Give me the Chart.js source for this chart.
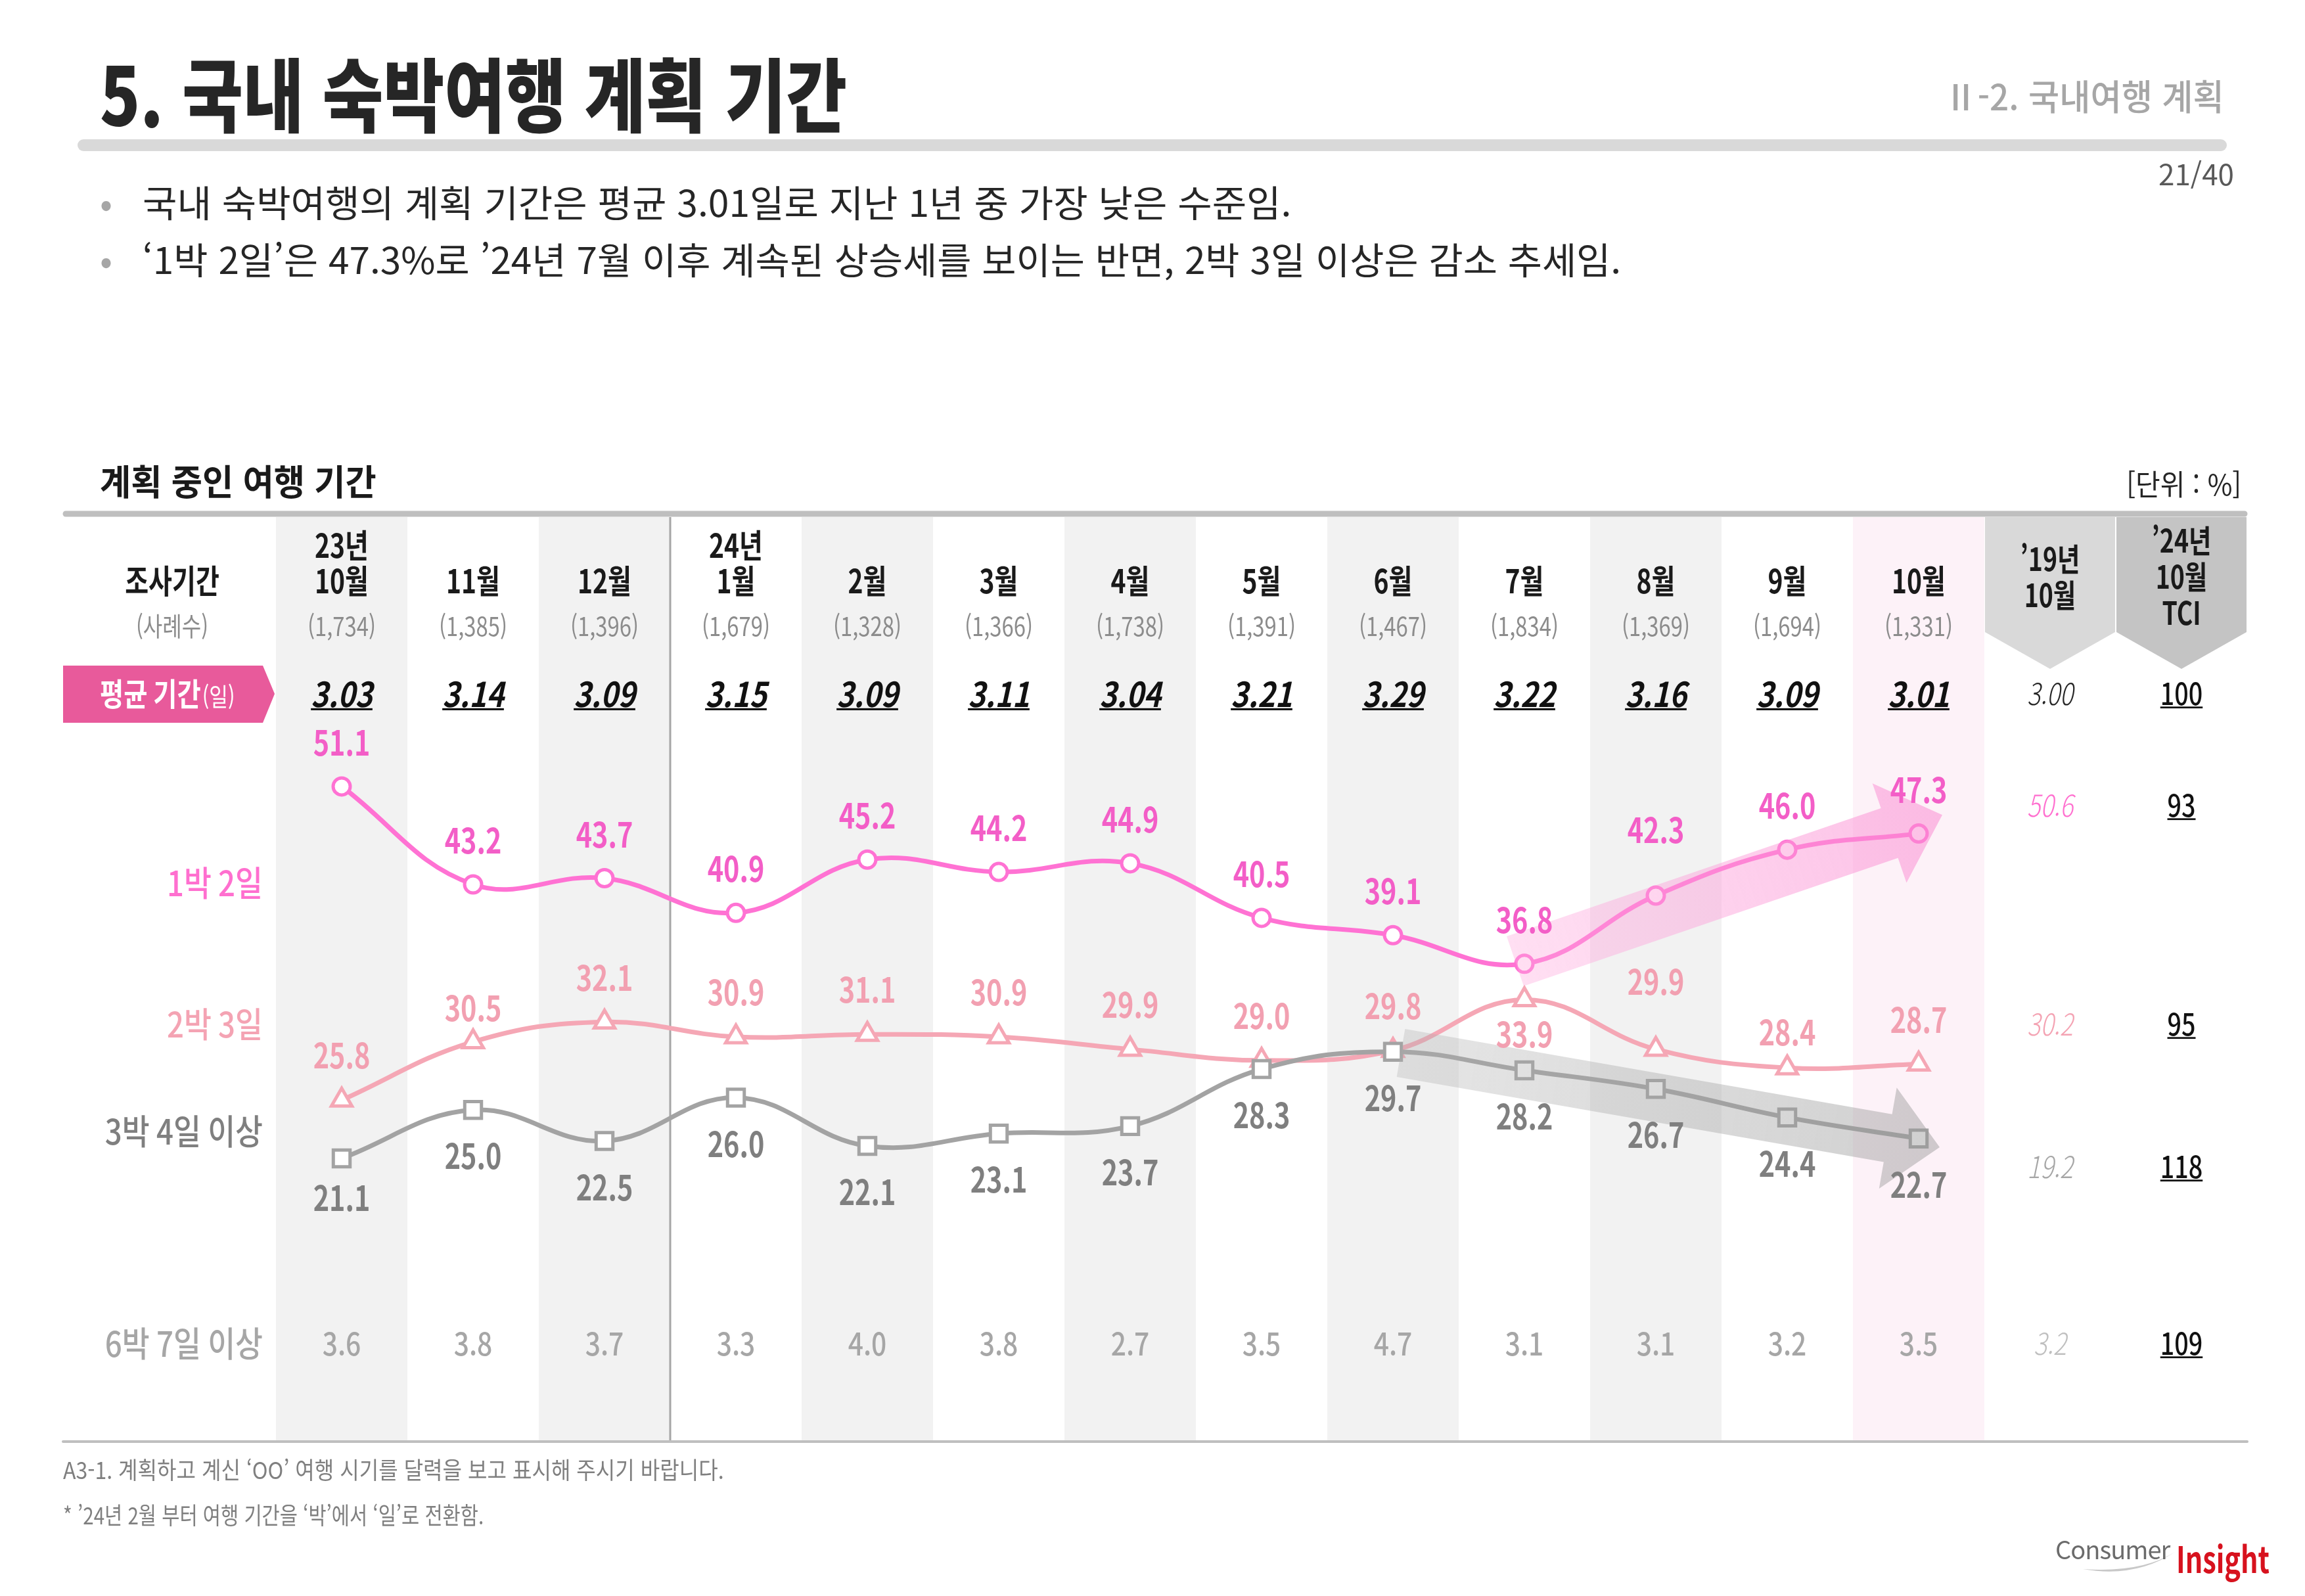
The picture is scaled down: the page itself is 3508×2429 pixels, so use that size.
<!DOCTYPE html>
<html lang="ko">
<head>
<meta charset="utf-8">
<title>국내 숙박여행 계획 기간</title>
<script src="https://cdn.jsdelivr.net/npm/chart.js@4.4.1/dist/chart.umd.min.js"></script>
<style>
html,body{margin:0;padding:0;background:#fff;}
#page{position:relative;width:3508px;height:2429px;overflow:hidden;background:#fff;font-family:"Noto Sans CJK KR","Noto Sans",sans-serif;}
#c{position:absolute;left:0;top:0;}
.t{position:absolute;white-space:nowrap;line-height:1;transform-origin:left center;}
.r{transform-origin:right center;}
</style>
</head>
<body>
<div id="page">
<canvas id="c" width="3508" height="2429"></canvas>

<div class="t" style="left:152px;top:77px;font-size:122px;font-weight:900;color:#262626;transform:scaleX(0.826)">5. 국내 숙박여행 계획 기간</div>
<div class="t r" style="right:123px;top:118px;font-size:54px;font-weight:500;color:#a6a6a6;transform:scaleX(0.95)">Ⅱ-2. 국내여행 계획</div>
<div style="position:absolute;left:118px;top:212px;width:3271px;height:18px;border-radius:9px;background:#d9d9d9"></div>
<div class="t r" style="right:108px;top:241px;font-size:44px;color:#595959">21/40</div>

<div class="t" style="left:152px;top:278px;font-size:56px;color:#a6a6a6">•</div>
<div class="t" style="left:217px;top:278px;font-size:56px;color:#262626;transform:scaleX(1.017)">국내 숙박여행의 계획 기간은 평균 3.01일로 지난 1년 중 가장 낮은 수준임.</div>
<div class="t" style="left:152px;top:365px;font-size:56px;color:#a6a6a6">•</div>
<div class="t" style="left:217px;top:365px;font-size:56px;color:#262626;transform:scaleX(1.013)">‘1박 2일’은 47.3%로 ’24년 7월 이후 계속된 상승세를 보이는 반면, 2박 3일 이상은 감소 추세임.</div>

<div class="t" style="left:152px;top:704px;font-size:54px;font-weight:700;color:#1a1a1a;transform:scaleX(0.95)">계획 중인 여행 기간</div>
<div class="t r" style="right:97px;top:713px;font-size:44px;color:#262626;transform:scaleX(0.93)">[단위 : %]</div>

<div class="t" style="left:96px;top:2217px;font-size:36px;color:#7f7f7f;transform:scaleX(0.89)">A3-1. 계획하고 계신 ‘OO’ 여행 시기를 달력을 보고 표시해 주시기 바랍니다.</div>
<div class="t" style="left:96px;top:2286px;font-size:36px;color:#7f7f7f;transform:scaleX(0.82)">* ’24년 2월 부터 여행 기간을 ‘박’에서 ‘일’로 전환함.</div>

<svg style="position:absolute;left:3160px;top:2350px" width="170" height="50">
<path d="M10 38 Q 90 52 150 12 Q 100 44 10 38 Z" fill="#c8c8c8"/>
</svg>
<div class="t" style="left:3128px;top:2338px;font-size:38px;color:#6b6b6b;letter-spacing:-1px">Consumer</div>
<div class="t" style="left:3312px;top:2342px;font-size:56px;font-weight:700;color:#d7121e;transform:scaleX(0.74)">Insight</div>
</div>

<script>
const FONT = '"Noto Sans CJK KR", "Noto Sans", sans-serif';

const periods = [['23년','10월'],['11월'],['12월'],['24년','1월'],['2월'],['3월'],['4월'],['5월'],['6월'],['7월'],['8월'],['9월'],['10월']];
const extraCols = [['’19년','10월'],['’24년','10월','TCI']];
const sampleSizes = ['1,734','1,385','1,396','1,679','1,328','1,366','1,738','1,391','1,467','1,834','1,369','1,694','1,331'];
const avgDays = [3.03,3.14,3.09,3.15,3.09,3.11,3.04,3.21,3.29,3.22,3.16,3.09,3.01];

const seriesNames = ['1박 2일','2박 3일','3박 4일 이상','6박 7일 이상'];
const oneNight = [51.1,43.2,43.7,40.9,45.2,44.2,44.9,40.5,39.1,36.8,42.3,46.0,47.3];
const twoNights = [25.8,30.5,32.1,30.9,31.1,30.9,29.9,29.0,29.8,33.9,29.9,28.4,28.7];
const threeNights = [21.1,25.0,22.5,26.0,22.1,23.1,23.7,28.3,29.7,28.2,26.7,24.4,22.7];
const sixNights = [3.6,3.8,3.7,3.3,4.0,3.8,2.7,3.5,4.7,3.1,3.1,3.2,3.5];

// avg, 1박2일, 2박3일, 3박4일, 6박7일
const oct2019 = [3.00,50.6,30.2,19.2,3.2];
const tci = [100,93,95,118,109];

// trend arrows in (column index, value)
const trendUp = [[8.93,37.0],[12.18,48.8]];
const trendDown = [[8.06,29.6],[12.16,22.0]];

const TOP = 787, BOTTOM = 2192;

function txt(ctx, s, x, y, o){
ctx.save();
ctx.font = (o.italic ? 'italic ' : '') + (o.weight || 400) + ' ' + o.size + 'px ' + FONT;
ctx.fillStyle = o.color || '#000';
ctx.textAlign = o.align || 'center';
ctx.textBaseline = 'middle';
ctx.translate(x, y);
ctx.scale(o.sx || 0.82, 1);
ctx.fillText(s, 0, 0);
if(o.underline){
const w = ctx.measureText(s).width;
let x0 = -w/2;
if(o.align === 'left') x0 = 0;
if(o.align === 'right') x0 = -w;
ctx.fillRect(x0, o.size*0.42, w, Math.max(2, o.size*0.06));
}
ctx.restore();
}

function arrow(ctx, t, p, w, hw, hl, c0, c1){
const dx = p[0]-t[0], dy = p[1]-t[1];
const len = Math.hypot(dx, dy);
const ux = dx/len, uy = dy/len;
const nx = -uy, ny = ux;
const hx = p[0]-ux*hl, hy = p[1]-uy*hl;
const g = ctx.createLinearGradient(t[0], t[1], p[0], p[1]);
g.addColorStop(0, c0);
g.addColorStop(1, c1);
ctx.save();
ctx.fillStyle = g;
ctx.beginPath();
ctx.moveTo(t[0]+nx*w/2, t[1]+ny*w/2);
ctx.lineTo(hx+nx*w/2, hy+ny*w/2);
ctx.lineTo(hx+nx*hw/2, hy+ny*hw/2);
ctx.lineTo(p[0], p[1]);
ctx.lineTo(hx-nx*hw/2, hy-ny*hw/2);
ctx.lineTo(hx-nx*w/2, hy-ny*w/2);
ctx.lineTo(t[0]-nx*w/2, t[1]-ny*w/2);
ctx.closePath();
ctx.fill();
ctx.restore();
}

const tablePlugin = {
id:'table',
beforeDatasetsDraw(chart){
const ctx = chart.ctx;
const x = chart.scales.x;
const colW = x.getPixelForValue(1) - x.getPixelForValue(0);

// column bands
periods.forEach((p,i)=>{
const cx = x.getPixelForValue(i);
if(i === periods.length-1) ctx.fillStyle = '#fdf2f8';
else if(i % 2 === 0) ctx.fillStyle = '#f2f2f2';
else return;
ctx.fillRect(cx-colW/2, TOP, colW, BOTTOM-TOP);
});

// divider between 2023 and 2024
const dx = (x.getPixelForValue(2) + x.getPixelForValue(3)) / 2;
ctx.fillStyle = '#a6a6a6';
ctx.fillRect(dx-1.5, TOP, 3, BOTTOM-TOP);

// top and bottom rules
ctx.strokeStyle = '#bfbfbf';
ctx.lineCap = 'round';
ctx.lineWidth = 9;
ctx.beginPath(); ctx.moveTo(100, 782); ctx.lineTo(3416, 782); ctx.stroke();
ctx.lineWidth = 4;
ctx.beginPath(); ctx.moveTo(96, 2194); ctx.lineTo(3420, 2194); ctx.stroke();

// header pentagons for 2019 and TCI
['#d9d9d9','#c4c4c4'].forEach((c,j)=>{
const cx = x.getPixelForValue(periods.length + j);
ctx.fillStyle = c;
ctx.beginPath();
ctx.moveTo(cx-colW/2+1, TOP);
ctx.lineTo(cx+colW/2-1, TOP);
ctx.lineTo(cx+colW/2-1, 962);
ctx.lineTo(cx, 1018);
ctx.lineTo(cx-colW/2+1, 962);
ctx.closePath();
ctx.fill();
});

// pink row tag
ctx.fillStyle = '#e85a9b';
ctx.beginPath();
ctx.moveTo(96, 1013); ctx.lineTo(400, 1013); ctx.lineTo(418, 1056);
ctx.lineTo(400, 1100); ctx.lineTo(96, 1100); ctx.closePath();
ctx.fill();
},
afterDatasetsDraw(chart){
const ctx = chart.ctx;
const x = chart.scales.x, y = chart.scales.y;
const px = pt => [x.getPixelForValue(pt[0]), y.getPixelForValue(pt[1])];

// trend arrows
arrow(ctx, px(trendUp[0]), px(trendUp[1]), 80, 160, 85, 'rgba(255,170,222,0.38)', 'rgba(250,140,210,0.55)');
arrow(ctx, px(trendDown[0]), px(trendDown[1]), 74, 156, 80, 'rgba(175,175,175,0.32)', 'rgba(150,150,150,0.45)');

// point labels
chart.data.datasets.forEach((ds,di)=>{
const meta = chart.getDatasetMeta(di);
meta.data.forEach((el,i)=>{
const over = ds.labelDyAt && ds.labelDyAt[i] !== undefined ? ds.labelDyAt[i] : ds.labelDy;
txt(ctx, ds.data[i].toFixed(1), el.x, el.y + over, {size:53, weight:700, color:ds.labelColor, sx:0.78});
});
});

// header row
txt(ctx, '조사기간', 262, 884, {size:50, weight:700, color:'#1a1a1a', sx:0.78});
txt(ctx, '(사례수)', 262, 953, {size:40, color:'#8c8c8c', sx:0.8});
periods.forEach((p,i)=>{
const cx = x.getPixelForValue(i);
p.forEach((line,k)=>{
txt(ctx, line, cx, 884 - (p.length-1-k)*54, {size:50, weight:700, color:'#1a1a1a', sx:0.78});
});
txt(ctx, '(' + sampleSizes[i] + ')', cx, 953, {size:40, color:'#8c8c8c', sx:0.82});
});
extraCols.forEach((p,j)=>{
const cx = x.getPixelForValue(periods.length + j);
p.forEach((line,k)=>{
txt(ctx, line, cx, 878 + (k - (p.length-1)/2)*55, {size:48, weight:700, color:'#1a1a1a', sx:0.78});
});
});

// average days row
ctx.save();
ctx.font = '700 48px ' + FONT;
const w1 = ctx.measureText('평균 기간').width * 0.82;
ctx.restore();
txt(ctx, '평균 기간', 152, 1056, {size:48, weight:700, color:'#fff', align:'left', sx:0.82});
txt(ctx, '(일)', 152 + w1 + 2, 1060, {size:38, color:'#fff', align:'left', sx:0.82});
avgDays.forEach((v,i)=>{
txt(ctx, v.toFixed(2), x.getPixelForValue(i), 1056, {size:52, weight:700, italic:true, underline:true, color:'#111', sx:0.86});
});

// series names
const nameRows = [1344, 1559, 1722, 2045];
const nameColors = ['#ff6fcf','#f4a3b3','#7f7f7f','#a6a6a6'];
seriesNames.forEach((n,k)=>{
txt(ctx, n, 400, nameRows[k], {size:53, weight:500, color:nameColors[k], align:'right', sx:0.86});
});

// 6박 7일 이상 row
sixNights.forEach((v,i)=>{
txt(ctx, v.toFixed(1), x.getPixelForValue(i), 2045, {size:48, weight:500, color:'#a6a6a6', sx:0.85});
});

// 2019 and TCI columns
const c19 = x.getPixelForValue(periods.length);
const cT = x.getPixelForValue(periods.length + 1);
const refRows = [1056, 1226, 1559, 1776, 2045];
const refColors = ['#262626','#ff6fcf','#f4a3b3','#a6a6a6','#bfbfbf'];
oct2019.forEach((v,k)=>{
txt(ctx, k === 0 ? v.toFixed(2) : v.toFixed(1), c19, refRows[k], {size:46, weight:300, italic:true, color:refColors[k], sx:0.82});
});
tci.forEach((v,k)=>{
txt(ctx, String(v), cT, refRows[k], {size:46, weight:500, underline:true, color:'#111', sx:0.82});
});
}
};

new Chart(document.getElementById('c'), {
type:'line',
data:{
labels: periods.concat(extraCols),
datasets:[
{label:seriesNames[0], data:oneNight, order:0,
borderColor:'#ff72d3', borderWidth:7, tension:0.4,
pointStyle:'circle', pointRadius:13, pointBorderWidth:5,
pointBackgroundColor:'#fff', pointBorderColor:'#ff72d3',
labelColor:'#f35ec7', labelDy:-67, labelDyAt:{10:-100}},
{label:seriesNames[2], data:threeNights, order:1,
borderColor:'#a3a3a3', borderWidth:7, tension:0.4,
pointStyle:'rect', pointRadius:18, pointBorderWidth:5,
pointBackgroundColor:'#fff', pointBorderColor:'#a3a3a3',
labelColor:'#7f7f7f', labelDy:70, labelDyAt:{0:60}},
{label:seriesNames[1], data:twoNights, order:2,
borderColor:'#f5a7b5', borderWidth:7, tension:0.4,
pointStyle:'triangle', pointRadius:18, pointBorderWidth:5,
pointBackgroundColor:'#fff', pointBorderColor:'#f5a7b5',
labelColor:'#f2a0b1', labelDy:-68, labelDyAt:{1:-52, 9:52, 10:-103, 11:-54}}
]
},
options:{
responsive:false,
devicePixelRatio:1,
animation:false,
events:[],
layout:{padding:{left:420, right:88, top:1029, bottom:268}},
plugins:{legend:{display:false}, tooltip:{enabled:false}},
scales:{
x:{display:false, offset:true},
y:{display:false, min:0, max:60}
}
},
plugins:[tablePlugin]
});
</script>
</body>
</html>
